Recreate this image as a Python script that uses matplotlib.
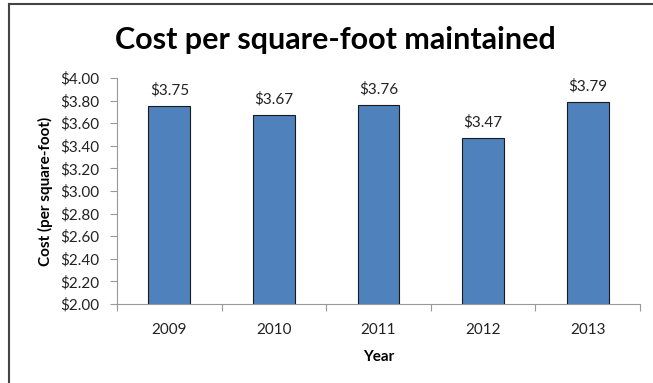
import matplotlib.pyplot as plt
from matplotlib.lines import Line2D

years = ['2009', '2010', '2011', '2012', '2013']
cost = [3.75, 3.67, 3.76, 3.47, 3.79]

plt.rcParams['font.family'] = ['Lato', 'DejaVu Sans']

fig = plt.figure(figsize=(6.53, 3.83), dpi=100)
ax = fig.add_axes([117 / 653, 1 - 304 / 383, 523 / 653, 226 / 383])

x = range(len(years))
ax.bar(x, cost, width=0.4, bottom=0, color='#4F81BD', edgecolor='#1a1a1a', linewidth=0.8, zorder=3)
for xi, v in zip(x, cost):
    ax.annotate('${:.2f}'.format(v), (xi, v), xytext=(0, 6), textcoords='offset points',
                ha='center', va='bottom', fontsize=11, color='#222222')

ax.set_xlim(-0.5, len(years) - 0.5)
ax.set_ylim(2.0, 4.0)
ax.set_yticks([2.0 + 0.2 * i for i in range(11)])
ax.set_yticklabels(['${:.2f}'.format(2.0 + 0.2 * i) for i in range(11)], fontsize=11, color='#222222')
ax.set_xticks(list(x))
ax.set_xticklabels(years, fontsize=11, color='#222222')
ax.tick_params(axis='x', length=0, pad=14)
ax.set_xticks([i - 0.5 for i in range(len(years) + 1)], minor=True)
ax.tick_params(axis='x', which='minor', length=5, color='#999999', width=0.8)
ax.tick_params(axis='y', length=5, color='#999999', width=0.8, pad=8)

for side in ['top', 'right']:
    ax.spines[side].set_visible(False)
for side in ['left', 'bottom']:
    ax.spines[side].set_color('#999999')
    ax.spines[side].set_linewidth(0.8)

ax.set_ylabel('Cost (per square-foot)', fontsize=11, fontweight='bold', labelpad=5)
ax.set_xlabel('Year', fontsize=11, fontweight='bold', labelpad=9)
fig.text(0.513, 1 - 40 / 383, 'Cost per square-foot maintained', ha='center', va='center',
         fontsize=22, fontweight='bold', color='black')

# outer chart frame (left and top edges)
fig.add_artist(Line2D([9 / 653, 9 / 653], [0, 1 - 3.5 / 383], transform=fig.transFigure,
                      color='#444444', linewidth=1.5))
fig.add_artist(Line2D([9 / 653, 1], [1 - 3.5 / 383, 1 - 3.5 / 383], transform=fig.transFigure,
                      color='#444444', linewidth=1.5))

fig.savefig('out.png', dpi=100)
